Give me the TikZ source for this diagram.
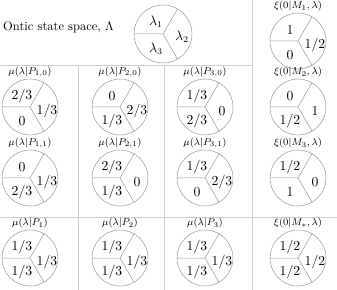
\documentclass[tikz,border=0pt]{standalone}
\usepackage{amsmath}
\definecolor{rulegray}{RGB}{205,205,205}
\definecolor{piegray}{RGB}{150,150,150}
\tikzset{
  pie/.style={circle,draw=piegray,thin,minimum size=44.8pt,inner sep=0pt},
  cut/.style={piegray,thin},
  ttl/.style={font=\fontsize{8.5}{10}\selectfont,inner sep=1pt,anchor=south},
  val/.style={font=\fontsize{10.5}{12}\selectfont,inner sep=0pt},
  rule/.style={rulegray,thin},
}

\begin{document}
\begin{tikzpicture}[x=0.8pt,y=-0.8pt]
  \useasboundingbox (0,0) rectangle (337,290);

  % table rules
  \draw[rule] (0,65) -- (252,65);
  \draw[rule] (0,217) -- (337,217);
  \draw[rule] (252,0) -- (252,290);
  \draw[rule] (78,65) -- (78,290);
  \draw[rule] (164,65) -- (164,290);

  \node[anchor=west,inner sep=0pt] (ontic) at (3,27) {Ontic state space, $\Lambda$};
  \node[pie,minimum size=46.4pt] (lam) at (163,34) {};
  \draw[cut] (lam.center) -- (lam.180) (lam.center) -- (lam.60)
             (lam.center) -- (lam.-60);
  \path (lam.center) ++(-7,-12) node[val] (lam-a) {$\lambda_1$};
  \path (lam.center) ++(19,3) node[val] (lam-b) {$\lambda_2$};
  \path (lam.center) ++(-7,15) node[val] (lam-c) {$\lambda_3$};

  \foreach \n/\x/\y/\t/\a/\b/\c in {
      m1/298/41/{$\xi(0|M_1,\lambda)$}/{$1$}/{$1/2$}/{$0$},
      m2/298/107/{$\xi(0|M_2,\lambda)$}/{$0$}/{$1$}/{$1/2$},
      m3/298/178/{$\xi(0|M_3,\lambda)$}/{$1/2$}/{$0$}/{$1$},
      ms/298/258/{$\xi(0|M_*,\lambda)$}/{$1/2$}/{$1/2$}/{$1/2$},
      p10/30/107/{$\mu(\lambda|P_{1,0})$}/{$2/3$}/{$1/3$}/{$0$},
      p20/120/107/{$\mu(\lambda|P_{2,0})$}/{$0$}/{$2/3$}/{$1/3$},
      p30/205/107/{$\mu(\lambda|P_{3,0})$}/{$1/3$}/{$0$}/{$2/3$},
      p11/30/178/{$\mu(\lambda|P_{1,1})$}/{$0$}/{$1/3$}/{$2/3$},
      p21/120/178/{$\mu(\lambda|P_{2,1})$}/{$2/3$}/{$0$}/{$1/3$},
      p31/205/178/{$\mu(\lambda|P_{3,1})$}/{$1/3$}/{$2/3$}/{$0$},
      p1/30/258/{$\mu(\lambda|P_1)$}/{$1/3$}/{$1/3$}/{$1/3$},
      p2/120/258/{$\mu(\lambda|P_2)$}/{$1/3$}/{$1/3$}/{$1/3$},
      p3/205/258/{$\mu(\lambda|P_3)$}/{$1/3$}/{$1/3$}/{$1/3$}}{
    \node[pie] (\n) at (\x,\y) {};
    \node[ttl] (\n-t) at (\n.north) {\t};
    \draw[cut] (\n.center) -- (\n.180) (\n.center) -- (\n.60)
               (\n.center) -- (\n.-60);
    \path (\n.center) ++(-8,-11) node[val] (\n-a) {\a};
    \path (\n.center) ++(17,4) node[val] (\n-b) {\b};
    \path (\n.center) ++(-8,14) node[val] (\n-c) {\c};
  }
\end{tikzpicture}
\end{document}
